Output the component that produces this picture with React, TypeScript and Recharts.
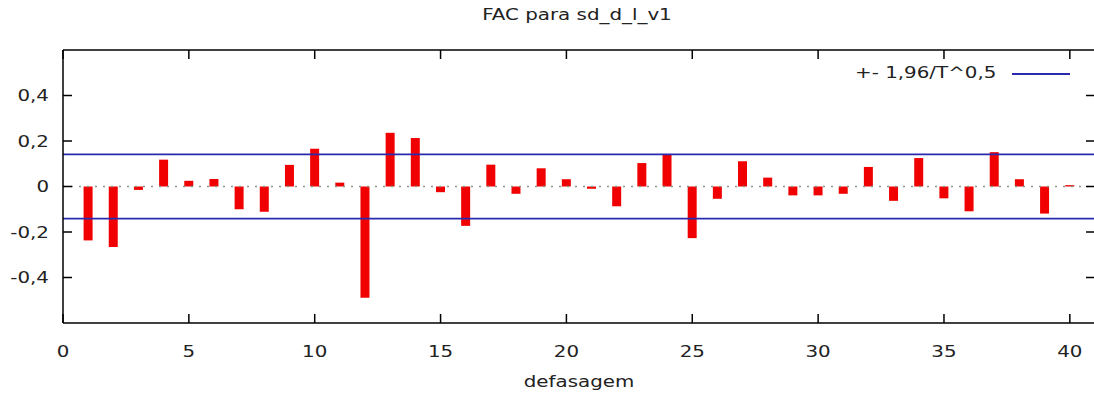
import React from 'react';
import { ComposedChart, Bar, XAxis, YAxis, ReferenceLine } from 'recharts';

// Autocorrelation of sd_d_l_v1 at lags 1..40
const lags = [
  1, 2, 3, 4, 5, 6, 7, 8, 9, 10, 11, 12, 13, 14, 15, 16, 17, 18, 19, 20,
  21, 22, 23, 24, 25, 26, 27, 28, 29, 30, 31, 32, 33, 34, 35, 36, 37, 38, 39, 40,
];
const acf = [
  -0.237, -0.266, -0.015, 0.118, 0.025, 0.033, -0.1, -0.111, 0.095, 0.166,
  0.017, -0.489, 0.236, 0.213, -0.025, -0.173, 0.096, -0.032, 0.08, 0.032,
  -0.01, -0.087, 0.103, 0.141, -0.227, -0.054, 0.111, 0.039, -0.039, -0.039,
  -0.032, 0.086, -0.063, 0.125, -0.052, -0.109, 0.151, 0.032, -0.119, 0.006,
];
// Confidence band +- 1.96 / sqrt(T)
const band = 0.141;

const xTicks = [0, 5, 10, 15, 20, 25, 30, 35, 40];
const yTicks = [-0.4, -0.2, 0, 0.2, 0.4];

const title = 'FAC para sd_d_l_v1';
const xLabel = 'defasagem';
const legendLabel = '+- 1,96/T^0,5';

const data = lags.map((lag, i) => ({ lag, acf: acf[i] }));

const FONT = '"DejaVu Sans", Verdana, sans-serif';
const FS = 15.5;
const SX = 1.28;
const TEXT = '#222';
const TICK_LEN = 9;
const BLUE = '#2a2ab0';

const fmt = (v: number) => (v === 0 ? '0' : String(v).replace('.', ','));

// Ticks are drawn inward from the frame, gnuplot style
const BottomTick = (props: any) => {
  const { x, y, payload } = props;
  return (
    <g>
      <line x1={x} x2={x} y1={y} y2={y - TICK_LEN} stroke="#000" strokeWidth={1.5} />
      <text
        transform={`translate(${x},${y + 28}) scale(${SX},1)`}
        textAnchor="middle"
        dominantBaseline="central"
        fontFamily={FONT}
        fontSize={FS}
        fill={TEXT}
      >
        {fmt(payload.value)}
      </text>
    </g>
  );
};

const TopTick = (props: any) => {
  const { x, y } = props;
  return <line x1={x} x2={x} y1={y} y2={y + TICK_LEN} stroke="#000" strokeWidth={1.5} />;
};

const LeftTick = (props: any) => {
  const { x, y, payload } = props;
  return (
    <g>
      <line x1={x} x2={x + TICK_LEN} y1={y} y2={y} stroke="#000" strokeWidth={1.5} />
      <text
        transform={`translate(${x - 14},${y}) scale(${SX},1)`}
        textAnchor="end"
        dominantBaseline="central"
        fontFamily={FONT}
        fontSize={FS}
        fill={TEXT}
      >
        {fmt(payload.value)}
      </text>
    </g>
  );
};

const RightTick = (props: any) => {
  const { x, y } = props;
  return <line x1={x} x2={x - TICK_LEN} y1={y} y2={y} stroke="#000" strokeWidth={1.5} />;
};

const XLabel = (props: any) => {
  const vb = props.viewBox || {};
  const cx = vb.x + vb.width / 2;
  const cy = vb.y + 58;
  return (
    <text
      transform={`translate(${cx},${cy}) scale(${SX},1)`}
      textAnchor="middle"
      dominantBaseline="central"
      fontFamily={FONT}
      fontSize={FS}
      fill={TEXT}
    >
      {xLabel}
    </text>
  );
};

const frame = { stroke: '#000', strokeWidth: 1.5 };

export default function App() {
  return (
    <div
      style={{
        position: 'absolute',
        left: 0,
        top: 0,
        width: 1094,
        height: 393,
        overflow: 'hidden',
        background: '#fff',
      }}
    >
      <ComposedChart
        width={1100}
        height={393}
        data={data}
        margin={{ top: 20, right: 0, bottom: 0, left: 0 }}
      >
        <XAxis
          dataKey="lag"
          type="number"
          domain={[0, 41]}
          ticks={xTicks}
          height={70}
          tickSize={0}
          tickMargin={0}
          tickLine={false}
          tick={<BottomTick />}
          axisLine={frame}
          allowDataOverflow
          interval={0}
          label={<XLabel />}
        />
        <XAxis
          xAxisId="top"
          orientation="top"
          dataKey="lag"
          type="number"
          domain={[0, 41]}
          ticks={xTicks}
          height={30}
          tickSize={0}
          tickMargin={0}
          tickLine={false}
          tick={<TopTick />}
          axisLine={frame}
          allowDataOverflow
          interval={0}
        />
        <YAxis
          type="number"
          domain={[-0.6, 0.6]}
          ticks={yTicks}
          width={63}
          tickSize={0}
          tickMargin={0}
          tickLine={false}
          tick={<LeftTick />}
          axisLine={frame}
          allowDataOverflow
          interval={0}
        />
        <YAxis
          yAxisId="right"
          orientation="right"
          type="number"
          domain={[-0.6, 0.6]}
          ticks={yTicks}
          width={5}
          tickSize={0}
          tickMargin={0}
          tickLine={false}
          tick={<RightTick />}
          axisLine={frame}
          allowDataOverflow
          interval={0}
        />
        <ReferenceLine y={0} stroke="#8a9a8a" strokeWidth={1.5} strokeDasharray="2 6" />
        <Bar dataKey="acf" fill="#f00000" barSize={9} isAnimationActive={false} />
        <ReferenceLine y={band} stroke={BLUE} strokeWidth={1.6} />
        <ReferenceLine y={-band} stroke={BLUE} strokeWidth={1.6} />
      </ComposedChart>

      <div
        style={{
          position: 'absolute',
          left: 577,
          top: 16,
          transform: `translate(-50%,-50%) scaleX(${SX})`,
          fontFamily: FONT,
          fontSize: FS,
          color: TEXT,
          whiteSpace: 'nowrap',
          lineHeight: 1,
        }}
      >
        {title}
      </div>

      <div
        style={{
          position: 'absolute',
          right: 1094 - 996,
          top: 74,
          transform: `translateY(-50%) scaleX(${SX})`,
          transformOrigin: 'right center',
          fontFamily: FONT,
          fontSize: FS,
          color: TEXT,
          whiteSpace: 'nowrap',
          lineHeight: 1,
        }}
      >
        {legendLabel}
      </div>
      <div
        style={{
          position: 'absolute',
          left: 1012,
          top: 73,
          width: 58,
          height: 2,
          background: BLUE,
        }}
      />
    </div>
  );
}
